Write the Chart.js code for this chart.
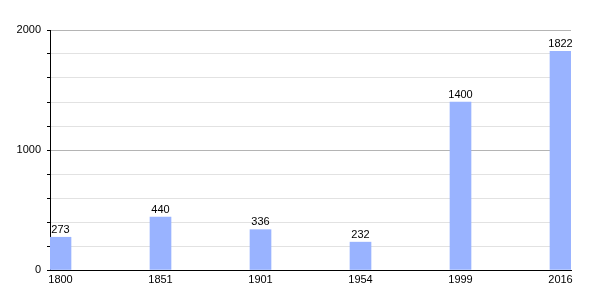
<!DOCTYPE html>
<html>
<head>
<meta charset="utf-8">
<script src="https://cdn.jsdelivr.net/npm/chart.js@4.4.0/dist/chart.umd.min.js"></script>
<style>
    html, body { margin: 0; padding: 0; background: #fff; }
    #wrap { width: 600px; height: 300px; }
</style>
</head>
<body>
<div id="wrap"><canvas id="popChart" width="600" height="300"></canvas></div>
<script>
const years = ['1800', '1851', '1901', '1954', '1999', '2016'];
const population = [273, 440, 336, 232, 1400, 1822];
const yTickLabels = [0, 1000, 2000];

const barColor = '#99b3ff';
const fontFamily = '"Liberation Sans", Arial, sans-serif';

// value labels above each bar
const valueLabels = {
    id: 'valueLabels',
    afterDatasetsDraw(chart) {
        const ctx = chart.ctx;
        const meta = chart.getDatasetMeta(0);
        ctx.save();
        ctx.font = '11px ' + fontFamily;
        ctx.fillStyle = '#000';
        ctx.textAlign = 'center';
        ctx.textBaseline = 'bottom';
        meta.data.forEach((bar, i) => {
            ctx.fillText(String(population[i]), bar.x, bar.y - 2);
        });
        ctx.restore();
    }
};

const ctx = document.getElementById('popChart').getContext('2d');
new Chart(ctx, {
    type: 'bar',
    data: {
        datasets: [{
            data: population.map((v, i) => ({ x: i, y: v })),
            backgroundColor: barColor,
            borderWidth: 0,
            barThickness: 21
        }]
    },
    options: {
        responsive: false,
        animation: false,
        layout: { padding: { top: 30, right: 29, left: 0, bottom: 0 } },
        plugins: {
            legend: { display: false },
            tooltip: { enabled: false }
        },
        scales: {
            x: {
                type: 'linear',
                offset: false,
                min: -0.105,
                max: 5.105,
                afterBuildTicks: axis => {
                    axis.ticks = years.map((y, i) => ({ value: i }));
                },
                afterFit: axis => { axis.height = 30; },
                grid: { display: false, drawTicks: false, offset: false },
                border: { color: '#000', width: 1 },
                ticks: {
                    padding: 3,
                    color: '#000',
                    font: { size: 11, family: fontFamily },
                    callback: v => years[v]
                }
            },
            y: {
                min: 0,
                max: 2000,
                afterFit: axis => { axis.width = 50; },
                border: { color: '#000', width: 1 },
                grid: {
                    color: c => (c.tick && c.tick.value % 1000 === 0) ? '#b4b4b4' : '#e2e2e2',
                    tickColor: '#000',
                    tickLength: 3
                },
                ticks: {
                    stepSize: 200,
                    padding: 6,
                    color: '#000',
                    font: { size: 11, family: fontFamily },
                    callback: v => yTickLabels.includes(v) ? String(v) : ''
                }
            }
        }
    },
    plugins: [valueLabels]
});
</script>
</body>
</html>
